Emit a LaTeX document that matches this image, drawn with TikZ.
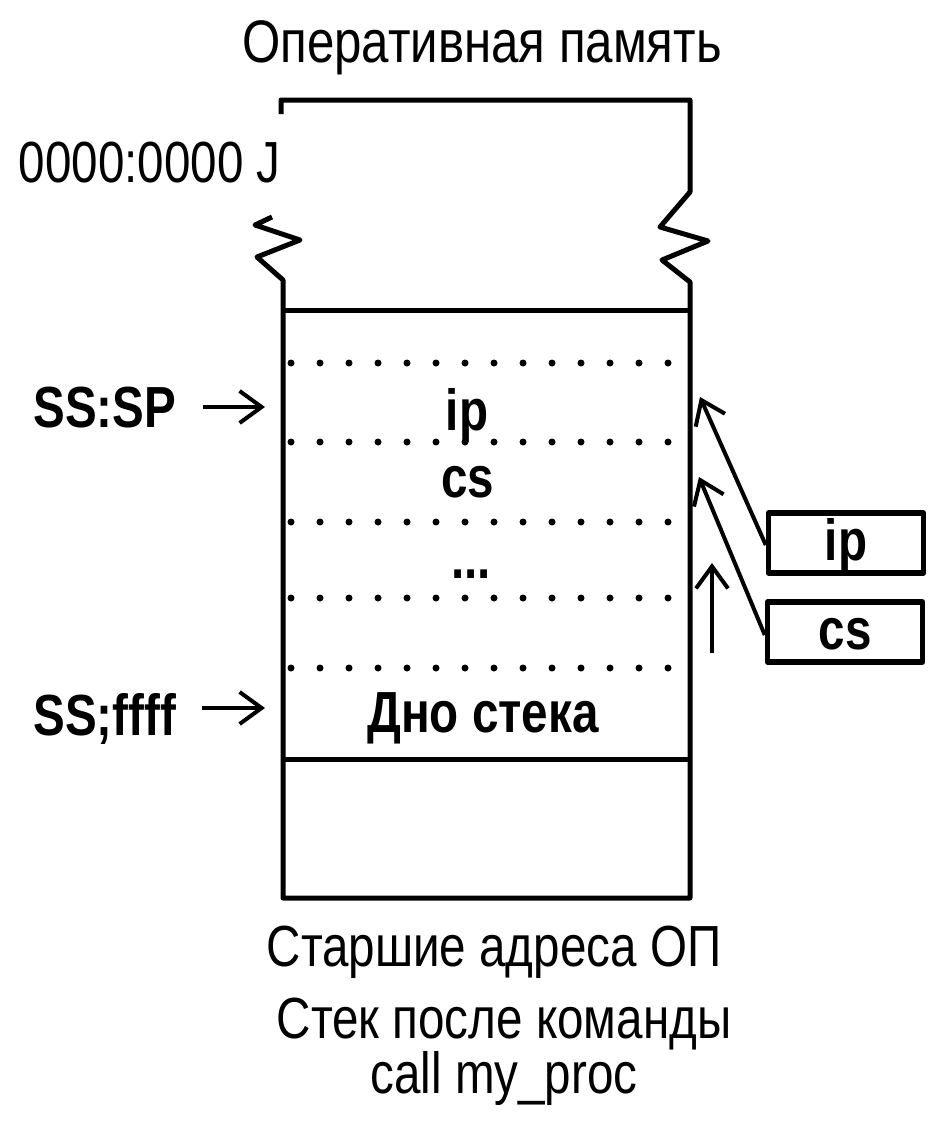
\documentclass[tikz,border=0pt]{standalone}
\usepackage{fontspec}
\setmainfont[FakeStretch=0.82]{Liberation Sans}
\usetikzlibrary{arrows.meta}

\begin{document}
\begin{tikzpicture}[x=1pt, y=-1pt, line width=5pt, line join=round,
  metka/.style={font=\fontsize{58}{62}\selectfont, inner sep=0pt},
  zhirnaya/.style={metka, font=\fontsize{58}{62}\selectfont\bfseries},
  registr/.style={zhirnaya, draw, line width=5.5pt, minimum width=155pt,
    text height=47pt, text depth=13pt},
  tochki/.style={line width=7pt, line cap=round, dash pattern=on 0pt off 29pt},
  strelka/.style={-{Straight Barb[length=22pt, width=32pt, line width=4pt]}, line width=4pt}]
  \useasboundingbox (0,0) rectangle (931,1124);

  % --- zagolovok i nachalnyj adres ---
  \node[metka, font=\fontsize{60}{64}\selectfont, anchor=base] (zagolovok) at (482,63) {Оперативная память};
  \node[metka, anchor=base east] (adr0) at (283,182) {0000:0000 J};

  % ---- 1) ramka pamyati s razryvami ----
  \draw (281,114) -- (281,100) -- (690,100) -- (690,192) -- (660,227)
    -- (708,241) -- (662,260) -- (690,282) -- (690,898) -- (283,898)
    -- (283,280) -- (257,257) -- (300,240) -- (255,225) -- (272,217);
  \draw (283,310) -- (690,310);
  \draw (283,759) -- (690,759);

  % ---- 2) yachejki steka ----
  \foreach \y in {363,442,522,598,668}
    \draw[tochki] (291,\y) -- (670,\y);
  \node[zhirnaya, anchor=base] (ip) at (467,430) {ip};
  \node[zhirnaya, anchor=base] (cs) at (468,497) {cs};
  \node[zhirnaya, anchor=base] (mnogo) at (471,578) {...};
  \node[zhirnaya, anchor=base] (dno) at (483,732) {Дно стека};

  % ---- 3) ukazateli SS ----
  \node[zhirnaya, anchor=base west] (sssp) at (31,427) {SS:SP};
  \node[zhirnaya, anchor=base west] (ssff) at (31,735) {SS;ffff};
  \coordinate (sssp-k) at (265,407);
  \coordinate (ssff-k) at (265,708);
  \draw[strelka] (203,407) -- (sssp-k);
  \draw[strelka] (202,708) -- (ssff-k);

  % ---- 4) registry i zapis v stek ----
  \node[registr, anchor=base] (ipreg) at (846,560) {ip};
  \node[registr, anchor=base] (csreg) at (845,649) {cs};
  \coordinate (ip-k) at (700,397);
  \coordinate (cs-k) at (699,477);
  \coordinate (rost-n) at (712,653);
  \coordinate (rost-k) at (712,563);
  \draw[strelka] ([yshift=-2pt]ipreg.west) -- (ip-k);
  \draw[strelka] ([yshift=-3pt]csreg.west) -- (cs-k);
  \draw[strelka] (rost-n) -- (rost-k);

  % --- podpisi snizu ---
  \node[metka, anchor=base] (starshie) at (494,966) {Старшие адреса ОП};
  \node[metka, font=\fontsize{58}{48}\selectfont, align=center, anchor=base] (posle) at (504,1093)
    {Стек после команды\\call my\_proc};
\end{tikzpicture}
\end{document}
